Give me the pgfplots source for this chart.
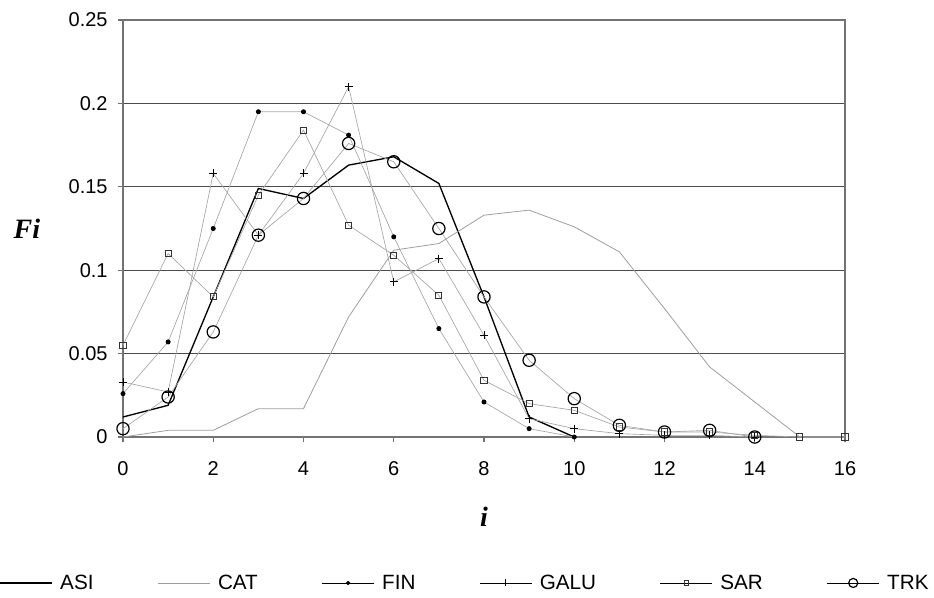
\documentclass[border=0pt]{standalone}
\usepackage{fontspec}
\setmainfont{Liberation Sans}
\newfontfamily\tnr{Liberation Serif}
\usepackage{pgfplots}
\pgfplotsset{compat=1.18}
\usepackage{pgfplotstable}

\pgfplotstableread{
x y
0 0.012
1 0.019
2 0.084
3 0.149
4 0.143
5 0.163
6 0.168
7 0.152
8 0.084
9 0.012
10 0.0
}\ASI
\pgfplotstableread{
x y
0 0.0
1 0.004
2 0.004
3 0.017
4 0.017
5 0.072
6 0.112
7 0.116
8 0.133
9 0.136
10 0.126
11 0.111
12 0.077
13 0.042
14 0.021
15 0.0
16 0.0
}\CAT
\pgfplotstableread{
x y
0 0.026
1 0.057
2 0.125
3 0.195
4 0.195
5 0.181
6 0.120
7 0.065
8 0.021
9 0.005
10 0.0
}\FIN
\pgfplotstableread{
x y
0 0.033
1 0.027
2 0.158
3 0.121
4 0.158
5 0.210
6 0.093
7 0.107
8 0.061
9 0.011
10 0.005
11 0.002
12 0.001
13 0.001
14 0.0
}\GALU
\pgfplotstableread{
x y
0 0.055
1 0.110
2 0.084
3 0.145
4 0.184
5 0.127
6 0.109
7 0.085
8 0.034
9 0.020
10 0.016
11 0.006
12 0.003
13 0.003
14 0.001
15 0.0
16 0.0
}\SAR
\pgfplotstableread{
x y
0 0.005
1 0.024
2 0.063
3 0.121
4 0.143
5 0.176
6 0.165
7 0.125
8 0.084
9 0.046
10 0.023
11 0.007
12 0.003
13 0.004
14 0.0
}\TRK

\begin{document}
\begin{tikzpicture}
\begin{axis}[
  scale only axis,
  width=541.5pt, height=312.75pt,
  xmin=0, xmax=16, ymin=0, ymax=0.25,
  xtick={0,2,4,6,8,10,12,14,16},
  ytick={0,0.05,0.1,0.15,0.2,0.25},
  scaled y ticks=false,
  yticklabel style={/pgf/number format/fixed, /pgf/number format/precision=2, xshift=-4pt},
  xticklabel style={yshift=-11pt},
  /pgf/number format/assume math mode=true,
  tick label style={font=\fontsize{15}{17}\selectfont},
  tick pos=left,
  tick align=outside,
  major tick length=4pt,
  every tick/.style={black!55, line width=0.8pt},
  axis line style={black!55, line width=1pt},
  ymajorgrids,
  grid style={black!70, line width=0.7pt},
  clip=false,
  xlabel={}, ylabel={},
  legend columns=6,
  legend style={at={(-0.1773,-0.350)}, anchor=west, draw=none, fill=none,
    font=\fontsize{15.5}{17}\selectfont,
    /tikz/every odd column/.append style={column sep=3.75pt},
    /tikz/every even column/.append style={column sep=46pt}},
  legend image code/.code={\draw[mark repeat=2,mark phase=2,#1] plot coordinates {(0pt,0pt) (19.5pt,0pt) (39pt,0pt)};},
]
\addplot[black, line width=1pt] table {\ASI};
\addlegendentry{ASI}
\addplot[black!38, line width=0.6pt] table {\CAT};
\addlegendentry{CAT}
\addplot[black!35, line width=0.5pt, mark=*, mark size=1.6pt, mark options={black, fill=black}, legend image post style={draw=black, mark size=1.3pt}] table {\FIN};
\addlegendentry{FIN}
\addplot[black!35, line width=0.5pt, mark=+, mark size=3pt, mark options={black, line width=0.6pt}, legend image post style={draw=black, mark size=2.6pt}] table {\GALU};
\addlegendentry{GALU}
\addplot[black!35, line width=0.5pt, mark=square, mark size=2.3pt, mark options={black!80, line width=0.7pt}, legend image post style={draw=black, mark size=1.8pt}] table {\SAR};
\addlegendentry{SAR}
\addplot[black!35, line width=0.5pt, mark=o, mark size=4.6pt, mark options={black, line width=0.9pt}, legend image post style={draw=black, mark size=3.4pt}] table {\TRK};
\addlegendentry{TRK}
\node at (axis description cs:-0.133,0.5) {\fontsize{21}{23}\selectfont\tnr\bfseries\itshape Fi};
\node at (axis description cs:0.5,-0.192) {\fontsize{21}{23}\selectfont\tnr\bfseries\itshape i};
\end{axis}
\pgfresetboundingbox
\path[use as bounding box] (-92.25pt,-120pt) rectangle (608.25pt,327.75pt);
\end{tikzpicture}
\end{document}
